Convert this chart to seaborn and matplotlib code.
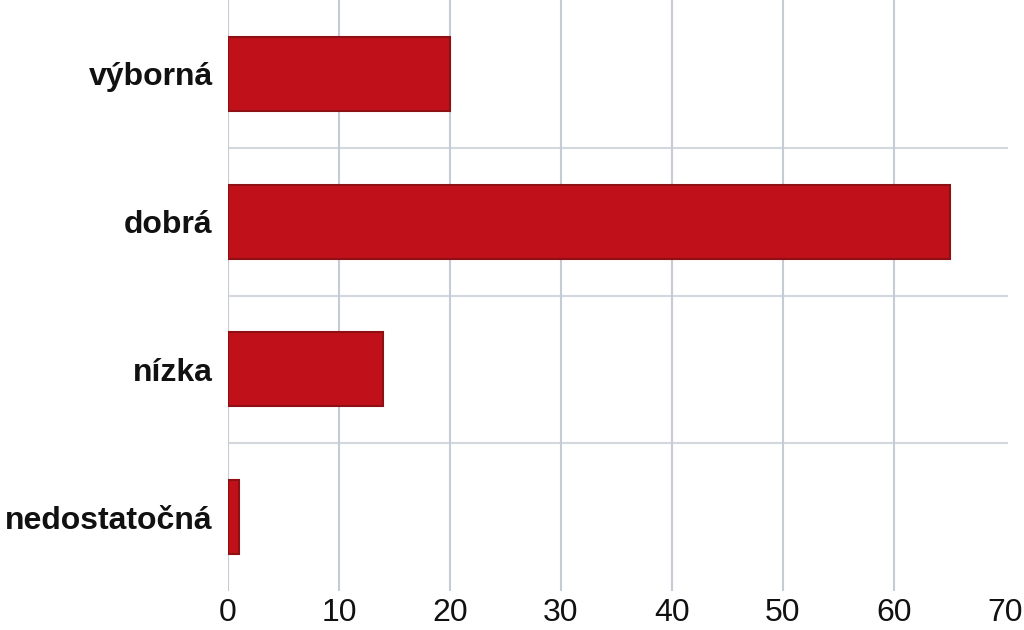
import pandas as pd
import matplotlib
matplotlib.use("Agg")
import matplotlib.pyplot as plt
import seaborn as sns

# Data
categories = ["výborná", "dobrá", "nízka", "nedostatočná"]
values = [20, 65, 14, 1]
x_ticks = [0, 10, 20, 30, 40, 50, 60, 70]

df = pd.DataFrame({"kategoria": categories, "pocet": values})

sns.set_theme(style="white")
plt.rcParams["font.family"] = ["Liberation Sans", "DejaVu Sans"]

fig = plt.figure(figsize=(10.24, 6.3), dpi=100)
ax = fig.add_axes([228 / 1024, 1 - 591 / 630, 777 / 1024, 591 / 630])

sns.barplot(data=df, x="pocet", y="kategoria", orient="h", ax=ax,
            color="#C0111A", edgecolor="#8E1014", linewidth=1.5,
            width=0.5, saturation=1)

ax.set_xlim(0, 70)
ax.set_ylim(3.5, -0.5)
ax.set_xticks(x_ticks)
ax.set_xlabel("")
ax.set_ylabel("")

# vertical grid, last line (70) not shown
ax.grid(axis="x", color="#C5CCD6", linewidth=1.5)
ax.set_axisbelow(True)
ax.get_xgridlines()[-1].set_visible(False)

# separators between categories
ax.hlines([0.5, 1.5, 2.5], 0, 70.3, colors="#D3D8DF", linewidth=1.5,
          clip_on=False, zorder=0)

for s in ax.spines.values():
    s.set_visible(False)

ax.tick_params(axis="x", length=0, pad=5, labelsize=23, labelcolor="#111111")
ax.tick_params(axis="y", length=0, pad=11, labelsize=23, labelcolor="#111111")
for lab in ax.get_yticklabels():
    lab.set_fontweight("bold")

fig.savefig("out.png", dpi=100)
